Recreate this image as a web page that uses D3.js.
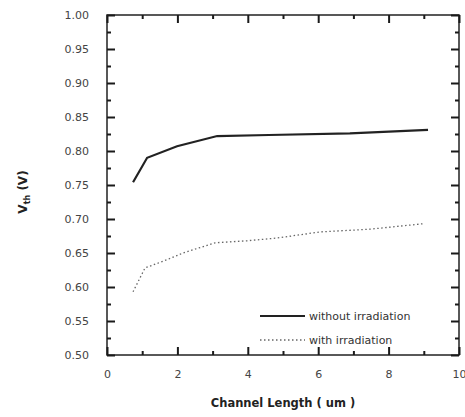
<!DOCTYPE html>
<html>
<head>
<meta charset="utf-8">
<script src="https://cdn.jsdelivr.net/npm/d3@7"></script>
<style>
  body { margin: 0; background: #fff; }
  text { font-family: "DejaVu Sans", sans-serif; }
</style>
</head>
<body>
<svg id="chart" width="465" height="417"></svg>
<script>
// channel length (um)
var lengthWithout = [0.74, 1.14, 1.99, 3.13, 4.6, 6.9, 9.12];
var vthWithout    = [0.754, 0.790, 0.807, 0.822, 0.8235, 0.826, 0.831];

var lengthWith = [0.74, 1.08, 1.7, 2.16, 3.07, 3.98, 4.83, 6.05, 7.47, 8.98];
var vthWith    = [0.593, 0.628, 0.640, 0.650, 0.665, 0.668, 0.672, 0.681, 0.685, 0.693];

var xTicks = [0, 2, 4, 6, 8, 10];
var xMinor = [1, 3, 5, 7, 9];
var yTicks = [0.50, 0.55, 0.60, 0.65, 0.70, 0.75, 0.80, 0.85, 0.90, 0.95, 1.00];
var yMinor = [0.525, 0.575, 0.625, 0.675, 0.725, 0.775, 0.825, 0.875, 0.925, 0.975];
var legendLabels = ["without irradiation", "with irradiation"];

var plotL = 107, plotR = 459, plotT = 15, plotB = 355;

var svg = d3.select("#chart");
var x = d3.scaleLinear().domain([0, 10]).range([plotL, plotR]);
var y = d3.scaleLinear().domain([0.5, 1.0]).range([plotB, plotT]);

function zipPts(xs, ys){
	var pts = [];
	for(var i=0;i<xs.length;i++){
		pts.push([xs[i], ys[i]]);
	}
	return pts;
}

// frame
svg.append("rect")
	.attr("x", plotL).attr("y", plotT)
	.attr("width", plotR - plotL).attr("height", plotB - plotT)
	.attr("fill", "none").attr("stroke", "#222").attr("stroke-width", 1.5);

// axes, ticks pointing inward on all four sides
function addAxis(axis, tx, ty, showLabels){
	var a = svg.append("g").attr("transform", "translate(" + tx + "," + ty + ")").call(axis);
	a.select(".domain").remove();
	a.selectAll(".tick line").attr("stroke", "#1a1a1a").attr("stroke-width", 2);
	a.selectAll("text").attr("fill", "#444").attr("font-size", 11).attr("font-family", "DejaVu Sans, sans-serif");
	if(!showLabels) a.selectAll("text").remove();
	return a;
}
addAxis(d3.axisBottom(x).tickValues(xTicks).tickSizeInner(-8).tickSizeOuter(0).tickPadding(15).tickFormat(d3.format("d")), 0, plotB, true);
addAxis(d3.axisBottom(x).tickValues(xMinor).tickSizeInner(-4).tickSizeOuter(0), 0, plotB, false);
addAxis(d3.axisTop(x).tickValues(xTicks).tickSizeInner(-8).tickSizeOuter(0), 0, plotT, false);
addAxis(d3.axisTop(x).tickValues(xMinor).tickSizeInner(-4).tickSizeOuter(0), 0, plotT, false);
addAxis(d3.axisLeft(y).tickValues(yTicks).tickSizeInner(-8).tickSizeOuter(0).tickPadding(18).tickFormat(d3.format(".2f")), plotL, 0, true);
addAxis(d3.axisLeft(y).tickValues(yMinor).tickSizeInner(-4).tickSizeOuter(0), plotL, 0, false);
addAxis(d3.axisRight(y).tickValues(yTicks).tickSizeInner(-8).tickSizeOuter(0), plotR, 0, false);
addAxis(d3.axisRight(y).tickValues(yMinor).tickSizeInner(-4).tickSizeOuter(0), plotR, 0, false);

// axis titles
svg.append("text")
	.attr("x", 283).attr("y", 407)
	.attr("text-anchor", "middle")
	.attr("font-size", 11.5)
	.attr("font-weight", "bold")
	.attr("fill", "#222")
	.text("Channel Length ( um )");

var yt = svg.append("text")
	.attr("transform", "translate(27,192) rotate(-90)")
	.attr("text-anchor", "middle")
	.attr("font-size", 12)
	.attr("font-weight", "bold")
	.attr("fill", "#222");
yt.append("tspan").text("V");
yt.append("tspan").attr("font-size", 8).attr("dy", 3).text("th");
yt.append("tspan").attr("dy", -3).text(" (V)");

// lines
var line = d3.line().x(function(d){ return x(d[0]); }).y(function(d){ return y(d[1]); });

svg.append("path")
	.attr("d", line(zipPts(lengthWithout, vthWithout)))
	.attr("fill", "none").attr("stroke", "#222").attr("stroke-width", 2.2);

svg.append("path")
	.attr("d", line(zipPts(lengthWith, vthWith)))
	.attr("fill", "none").attr("stroke", "#666").attr("stroke-width", 1.3)
	.attr("stroke-dasharray", "1.5,2.5");

// legend
var leg = svg.append("g");
leg.append("line").attr("x1", 260).attr("x2", 305).attr("y1", 316).attr("y2", 316)
	.attr("stroke", "#222").attr("stroke-width", 2);
leg.append("line").attr("x1", 260).attr("x2", 305).attr("y1", 340).attr("y2", 340)
	.attr("stroke", "#666").attr("stroke-width", 1.3).attr("stroke-dasharray", "1.5,2.5");
leg.selectAll("text").data(legendLabels).enter().append("text")
	.attr("x", 309)
	.attr("y", function(d, i){ return 320 + i * 24; })
	.attr("font-size", 11)
	.attr("fill", "#333")
	.text(function(d){ return d; });
</script>
</body>
</html>
